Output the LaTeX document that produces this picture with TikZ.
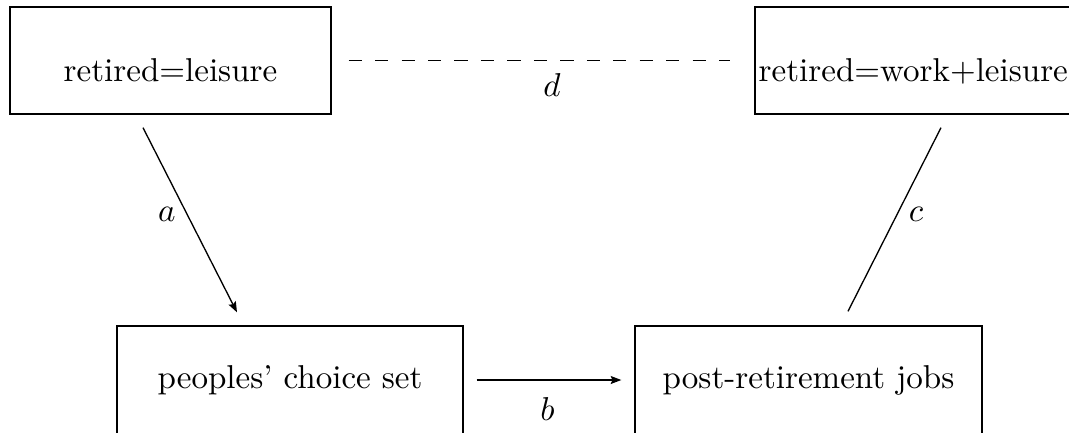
\documentclass[tikz,border=0pt]{standalone}
\usetikzlibrary{arrows.meta}
% one drawing unit
\def\pxu{0.3024pt}
\begin{document}
\begin{tikzpicture}[x=\pxu, y=-\pxu,
  box/.style={draw, rectangle, inner sep=0pt, line width=0.4pt},
  link/.style={line width=0.4pt},
  arrowlink/.style={link, -{Stealth[length=3.2pt, width=2.4pt, inset=0.5pt]}},
  lbl/.style={inner sep=3.33pt}
]
\useasboundingbox (0,0) rectangle (1069,432);

% boxes
\node[box, minimum width=321*\pxu, minimum height=107*\pxu,
      text height=12.8pt, text depth=0pt] (tl) at (170.5,60.5) {retired=leisure};
\node[box, minimum width=321*\pxu, minimum height=107*\pxu] (tr) at (915.5,60.5) {};
\node[anchor=base west, inner sep=0pt] (trtext) at (758,81.7) {retired=work+leisure};
\node[box, minimum width=346*\pxu, minimum height=108*\pxu] (bl) at (290,380) {peoples' choice set};
\node[box, minimum width=347*\pxu, minimum height=108*\pxu] (br) at (808.5,380) {post-retirement jobs};

% connectors
\draw[arrowlink] ([xshift=-27.5*\pxu, yshift=-13*\pxu]tl.south)
  -- node[lbl, left, pos=.47] {$a$} ([xshift=-53*\pxu, yshift=13*\pxu]bl.north);
\draw[arrowlink] ([xshift=13*\pxu]bl.east)
  -- node[lbl, below=1.8pt, pos=.49] {$b$} ([xshift=-13*\pxu]br.west);
\draw[link] ([xshift=25.5*\pxu, yshift=-13*\pxu]tr.south)
  -- node[lbl, right, pos=.47] {$c$} ([xshift=39.5*\pxu, yshift=14*\pxu]br.north);
\draw[link, dash pattern=on 4pt off 4pt] ([xshift=17*\pxu]tl.east)
  -- node[lbl, below=0.3pt, pos=.533] {$d$} ([xshift=-24*\pxu]tr.west);
\end{tikzpicture}
\end{document}
